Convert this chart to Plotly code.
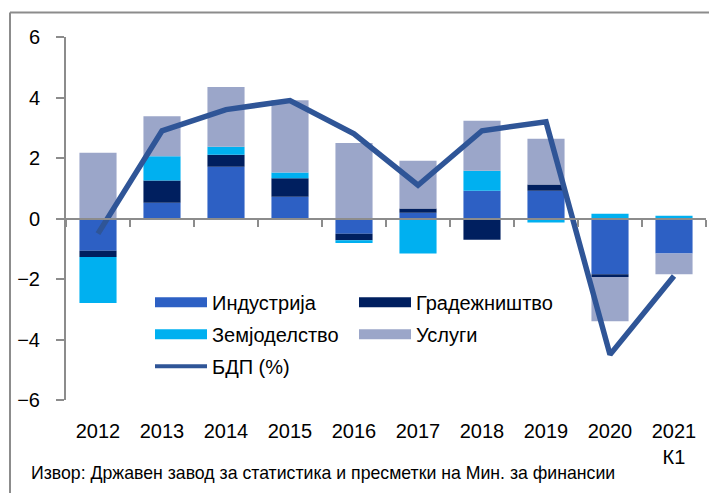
import plotly.graph_objects as go

years = ["2012", "2013", "2014", "2015", "2016", "2017", "2018", "2019", "2020", "2021<br>К1"]
industrija = [-1.07, 0.52, 1.71, 0.72, -0.50, 0.19, 0.92, 0.92, -1.84, -1.16]
gradeznistvo = [-0.20, 0.74, 0.40, 0.61, -0.22, 0.14, -0.70, 0.20, -0.09, 0.0]
zemjodelstvo = [-1.52, 0.80, 0.26, 0.19, -0.09, -1.16, 0.66, -0.13, 0.16, 0.09]
uslugi = [2.17, 1.32, 1.98, 2.39, 2.50, 1.58, 1.65, 1.52, -1.47, -0.68]
bdp = [-0.5, 2.9, 3.6, 3.9, 2.8, 1.1, 2.9, 3.2, -4.5, -1.9]

names = ["Индустрија", "Градежништво", "Земјоделство", "Услуги"]
colors = ["#2d60c4", "#001f5f", "#00b0f0", "#9ba6c9"]
series = [industrija, gradeznistvo, zemjodelstvo, uslugi]
legend_of = ["legend", "legend2", "legend", "legend2"]

FONT = "Liberation Sans, Arial, sans-serif"
OFF = 8  # page body margin
W, H = 717 - OFF, 493 - OFF
# plot area in page coordinates
PL, PR, PT, PB = 66, 706, 36.5, 400.5
L, R, T, B = PL - OFF, W - (PR - OFF), PT - OFF, H - (PB - OFF)
pw, ph = PR - PL, PB - PT

def px_x(p):
    return (p - PL) / pw

def px_y(p):
    return (PB - p) / ph

fig = go.Figure()
for nm, col, vals in zip(names, colors, series):
    fig.add_trace(go.Bar(x=years, y=vals, name=nm, marker=dict(color=col, line=dict(width=0)),
                         showlegend=False, xaxis="x", yaxis="y"))

fig.add_trace(go.Scatter(x=years, y=bdp, mode="lines", name="БДП (%)",
                         line=dict(color="#2f5597", width=5.5), showlegend=False,
                         xaxis="x2", yaxis="y"))

# legend proxies
for nm, col, lg in zip(names, colors, legend_of):
    fig.add_trace(go.Scatter(x=[None], y=[None], mode="lines", name=nm,
                             line=dict(color=col, width=14), legend=lg, legendgroup=nm,
                             xaxis="x2", yaxis="y"))
fig.add_trace(go.Scatter(x=[None], y=[None], mode="lines", name="БДП (%)",
                         line=dict(color="#2f5597", width=4), legend="legend", legendgroup="bdp",
                         xaxis="x2", yaxis="y"))

legend_common = dict(font=dict(family=FONT, size=20, color="#000"), bgcolor="rgba(0,0,0,0)",
                     itemwidth=52, tracegroupgap=3, yanchor="top", xanchor="left",
                     orientation="v")

fig.update_layout(
    width=W, height=H,
    margin=dict(l=L, r=R, t=T, b=B, autoexpand=False),
    paper_bgcolor="white", plot_bgcolor="white",
    barmode="relative", bargap=0.42,
    font=dict(family=FONT, size=20, color="#000"),
    legend=dict(x=px_x(150), y=px_y(283), **legend_common),
    legend2=dict(x=px_x(354), y=px_y(283), **legend_common),
    yaxis=dict(range=[-6, 6], dtick=2, showgrid=False, zeroline=False, automargin=False,
               showline=True, linecolor="#8c8c8c", linewidth=2,
               ticks="outside", ticklen=8, tickcolor="#8c8c8c", tickwidth=2,
               ticklabelstandoff=12, tickfont=dict(size=20)),
    xaxis=dict(type="category", range=[-0.5, 9.5], anchor="free", position=0.5, automargin=False,
               showline=True, linecolor="#8c8c8c", linewidth=2,
               ticks="outside", tickson="boundaries", ticklen=7, tickcolor="#8c8c8c", tickwidth=2,
               showticklabels=False, showgrid=False, zeroline=False),
    xaxis2=dict(type="category", range=[-0.5, 9.5], overlaying="x", side="bottom", anchor="y",
                automargin=False, showline=False, ticks="", showticklabels=True,
                showgrid=False, zeroline=False,
                ticklabelstandoff=17, tickfont=dict(size=20)),
    showlegend=True,
)

# outer chart border (top and left edges visible)
fig.add_shape(type="line", xref="paper", yref="paper",
              x0=px_x(10), x1=px_x(720), y0=px_y(12), y1=px_y(12),
              line=dict(color="#8c8c8c", width=2))
fig.add_shape(type="line", xref="paper", yref="paper",
              x0=px_x(10), x1=px_x(10), y0=px_y(12), y1=px_y(500),
              line=dict(color="#8c8c8c", width=2))

fig.add_annotation(text="Извор: Државен завод за статистика и пресметки на Мин. за финансии",
                   xref="paper", yref="paper", x=px_x(29), y=px_y(474),
                   xanchor="left", yanchor="middle", showarrow=False,
                   font=dict(family=FONT, size=17.7, color="#000"))

fig.write_html("out.html")
